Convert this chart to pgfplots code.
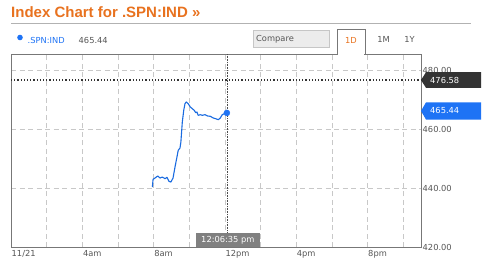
\documentclass[border=0pt]{standalone}
\usepackage{pgfplots}
\pgfplotsset{compat=1.18}
\usepackage{fontspec}
\setmainfont{DejaVu Sans}
\newfontfamily\titlefont{Liberation Sans}
\definecolor{ttlorange}{HTML}{E8721F}
\definecolor{lineblue}{HTML}{1A6BE0}
\definecolor{boxblue}{HTML}{1E73F5}
\definecolor{gridgray}{HTML}{C8C8C8}
\definecolor{axgray}{HTML}{777777}
\definecolor{txtgray}{HTML}{555555}
\newcommand\sm{\fontsize{8.3}{10}\selectfont}
\pgfplotstableread{
h v
7.93 440.33
7.97 442.94
8.08 443.38
8.23 444.06
8.36 443.38
8.49 443.72
8.64 443.14
8.75 443.62
8.86 442.26
8.97 442.03
9.09 443.38
9.20 447.11
9.31 450.50
9.38 452.77
9.48 453.55
9.53 455.58
9.61 462.36
9.69 466.32
9.76 468.56
9.83 469.14
9.94 468.56
10.06 467.44
10.17 466.87
10.28 466.32
10.36 465.51
10.43 465.75
10.50 464.63
10.62 464.83
10.73 464.63
10.88 464.83
11.03 464.39
11.18 464.29
11.35 463.71
11.48 463.48
11.63 463.14
11.74 463.71
11.85 464.83
11.96 465.17
12.11 465.44
}\spndata
\begin{document}
\begin{tikzpicture}[x=1pt,y=1pt]
\path[use as bounding box] (0,0) rectangle (486,-266);
% header
\node[anchor=west,inner sep=0pt,text=ttlorange,font=\titlefont\bfseries\fontsize{15}{17}\selectfont] at (11,-12) {Index Chart for .SPN:IND \guillemotright};
\draw[color=gray!60,line width=0.8pt] (11,-23.3) -- (471,-23.3);
\fill[boxblue] (20,-37.5) circle (2.8);
\node[anchor=west,inner sep=0pt,text=boxblue,font=\sm] at (27.5,-40) {.SPN:IND};
\node[anchor=west,inner sep=0pt,text=txtgray,font=\sm] at (78.5,-40) {465.44};
\draw[fill=gray!15,draw=gray!45] (253,-30.5) rectangle (329,-47);
\node[anchor=west,inner sep=0pt,text=txtgray,font=\sm] at (256,-39.5) {Compare};
\node[inner sep=0pt,text=ttlorange,font=\sm] at (351,-40.5) {1D};
\node[inner sep=0pt,text=txtgray,font=\sm] at (383.5,-39.5) {1M};
\node[inner sep=0pt,text=txtgray,font=\sm] at (409.5,-39.5) {1Y};
\begin{axis}[
  at={(11pt,-247pt)}, anchor=south west,
  width=410pt, height=193pt, scale only axis,
  xmin=0, xmax=23, ymin=420, ymax=485.4,
  axis line style={axgray, line width=0.8pt},
  xtick={0,2,...,22},
  xticklabels={11/21,,4am,,8am,,12pm,,4pm,,8pm,},
  x tick label style={anchor=north west, inner sep=1pt, yshift=-2pt, xshift=-0.5pt},
  ytick={420,440,460,480},
  yticklabel pos=right,
  y tick label style={anchor=west, inner sep=1.5pt, yshift=-0.8pt},
  yticklabel={\pgfmathprintnumber[fixed,fixed zerofill,precision=2]{\tick}},
  /pgf/number format/assume math mode=true,
  tick label style={font=\sm, text=txtgray},
  major tick length=0pt,
  grid=major,
  major grid style={gridgray, dash pattern=on 5pt off 3.5pt, line width=0.6pt},
  clip=false,
]
\addplot[lineblue, line width=1.1pt, line join=round] table[x=h,y=v] {\spndata};
\addplot[only marks, mark=*, mark size=3pt, boxblue] coordinates {(12.11,465.44)};
\draw[black!80, dotted, line width=1.2pt] (axis cs:0,476.58) -- (axis cs:23,476.58);
\draw[black!70, densely dotted, line width=0.6pt] (axis cs:12.11,485.4) -- (axis cs:12.11,420);
\fill[black!80] (axis cs:23,476.58) -- ++(5pt,7.8pt) -- ++(55pt,0pt) -- ++(0pt,-15.6pt) -- ++(-55pt,0pt) -- cycle;
\node[anchor=west,inner sep=0pt,text=white,font=\sm] at ([xshift=9pt]axis cs:23,476.58) {476.58};
\fill[boxblue] (axis cs:23,466.1) -- ++(5pt,8.6pt) -- ++(55pt,0pt) -- ++(0pt,-17.2pt) -- ++(-55pt,0pt) -- cycle;
\node[anchor=west,inner sep=0pt,text=white,font=\sm] at ([xshift=9pt]axis cs:23,466.1) {465.44};
\node[fill=gray, text=white, inner sep=1.8pt, minimum width=64pt, minimum height=14pt, anchor=south, font=\sm] at ([xshift=1pt]axis cs:12.11,420) {12:06:35 pm};
\end{axis}
\draw[axgray, line width=0.8pt] (337,-54) -- (337,-29.5) -- (365,-29.5) -- (365,-54);
\draw[white, line width=1.2pt] (337.6,-54) -- (364.4,-54);
\end{tikzpicture}
\end{document}
